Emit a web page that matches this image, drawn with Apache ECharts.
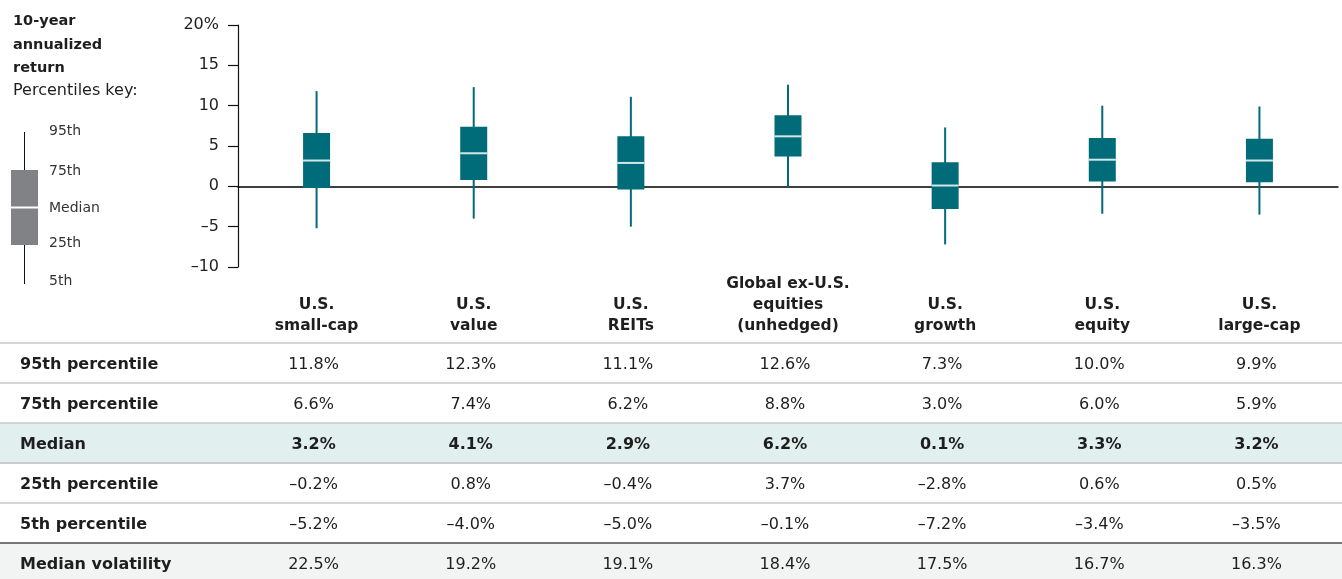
<!DOCTYPE html>
<html>
<head>
<meta charset="utf-8">
<script src="https://cdn.jsdelivr.net/npm/echarts@6/dist/echarts.min.js"></script>
<style>
  html, body { margin: 0; padding: 0; background: #fff; }
  #chart { width: 1342px; height: 579px; }
</style>
</head>
<body>
<div id="chart"></div>
<script>
// Asset classes and their 10-year annualized return percentiles (%)
const categories = [
  'U.S.\nsmall-cap',
  'U.S.\nvalue',
  'U.S.\nREITs',
  'Global ex-U.S.\nequities\n(unhedged)',
  'U.S.\ngrowth',
  'U.S.\nequity',
  'U.S.\nlarge-cap'
];
const p95 = [11.8, 12.3, 11.1, 12.6, 7.3, 10.0, 9.9];
const p75 = [6.6, 7.4, 6.2, 8.8, 3.0, 6.0, 5.9];
const median = [3.2, 4.1, 2.9, 6.2, 0.1, 3.3, 3.2];
const p25 = [-0.2, 0.8, -0.4, 3.7, -2.8, 0.6, 0.5];
const p5 = [-5.2, -4.0, -5.0, -0.1, -7.2, -3.4, -3.5];
const volatility = [22.5, 19.2, 19.1, 18.4, 17.5, 16.7, 16.3];

const yTicks = { min: -10, max: 20, interval: 5 };

const tableRows = [
  { label: '95th percentile', values: p95 },
  { label: '75th percentile', values: p75 },
  { label: 'Median', values: median, bold: true, fill: '#e1f0ef' },
  { label: '25th percentile', values: p25 },
  { label: '5th percentile', values: p5 },
  { label: 'Median volatility', values: volatility, fill: '#f2f4f3', darkTop: true }
];

const FONT = '"DejaVu Sans", "Noto Sans", sans-serif';
const TEAL = '#006b79';
const TEXT = '#1e1e1e';

const dash = v => (v < 0 ? '\u2013' : '') + Math.abs(v);
const pct = v => (v < 0 ? '\u2013' : '') + Math.abs(v).toFixed(1) + '%';

const boxData = categories.map((c, i) => [i, p5[i], p25[i], median[i], p75[i], p95[i]]);

// Whisker from 5th to 95th, box from 25th to 75th, light rule at the median
function renderBox(params, api) {
  const i = api.value(0);
  const top = api.coord([i, api.value(5)]);
  const bot = api.coord([i, api.value(1)]);
  const q3 = api.coord([i, api.value(4)]);
  const q1 = api.coord([i, api.value(2)]);
  const md = api.coord([i, api.value(3)]);
  const bw = 27;
  const cx = top[0];
  return {
    type: 'group',
    children: [
      { type: 'line', shape: { x1: cx, y1: top[1], x2: cx, y2: bot[1] },
        style: { stroke: TEAL, lineWidth: 2 } },
      { type: 'rect', shape: { x: cx - bw / 2, y: q3[1], width: bw, height: q1[1] - q3[1] },
        style: { fill: TEAL } },
      { type: 'line', shape: { x1: cx - bw / 2, y1: md[1], x2: cx + bw / 2, y2: md[1] },
        style: { stroke: '#d4e6e8', lineWidth: 2 } }
    ]
  };
}

const chart = echarts.init(document.getElementById('chart'), null, { renderer: 'canvas' });

chart.setOption({
  animation: false,
  textStyle: { fontFamily: FONT },
  grid: { left: 238, right: 4, top: 25, height: 242 },
  xAxis: [
    {
      type: 'category',
      data: categories,
      position: 'bottom',
      axisLine: { show: false, onZero: false },
      axisTick: { show: false },
      axisLabel: {
        interval: 0, margin: 69, verticalAlign: 'bottom',
        fontFamily: FONT, fontSize: 15.5, fontWeight: 'bold', color: TEXT, lineHeight: 21
      }
    },
    {
      type: 'category',
      data: categories,
      position: 'bottom',
      axisLine: { show: true, onZero: true, lineStyle: { color: '#000', width: 1.5 } },
      axisTick: { show: false },
      axisLabel: { show: false }
    }
  ],
  yAxis: {
    type: 'value',
    min: yTicks.min, max: yTicks.max, interval: yTicks.interval,
    axisLine: { show: true, lineStyle: { color: '#111', width: 1.2 } },
    axisTick: { show: true, length: 10, lineStyle: { color: '#111', width: 1.2 } },
    splitLine: { show: false },
    axisLabel: {
      margin: 19, fontFamily: FONT, fontSize: 16, color: TEXT,
      formatter: v => (v === yTicks.max ? v + '%' : dash(v))
    }
  },
  series: [{
    type: 'custom',
    renderItem: renderBox,
    encode: { x: 0, y: [1, 2, 3, 4, 5] },
    data: boxData,
    z: 3
  }]
});

// Key, title and the percentile table underneath the plot
const graphics = [];

// Title block
const titleLines = [
  { t: '10-year', y: 21, bold: true },
  { t: 'annualized', y: 45, bold: true },
  { t: 'return', y: 68, bold: true },
  { t: 'Percentiles key:', y: 91, bold: false }
];
titleLines.forEach(l => graphics.push({
  type: 'text', x: 13, y: l.y,
  style: { text: l.t, font: (l.bold ? 'bold 14.5px ' : '16px ') + FONT, fill: TEXT, verticalAlign: 'middle' }
}));

// Percentile key glyph
graphics.push(
  { type: 'line', shape: { x1: 24.5, y1: 132, x2: 24.5, y2: 284 }, style: { stroke: '#111', lineWidth: 1 } },
  { type: 'rect', shape: { x: 11, y: 170, width: 27, height: 75 }, style: { fill: '#808285' } },
  { type: 'line', shape: { x1: 11, y1: 207.5, x2: 38, y2: 207.5 }, style: { stroke: '#fff', lineWidth: 2 } }
);
[['95th', 131], ['75th', 171], ['Median', 208], ['25th', 243], ['5th', 281]].forEach(([t, y]) =>
  graphics.push({ type: 'text', x: 49, y: y,
    style: { text: t, font: '14px ' + FONT, fill: '#333', verticalAlign: 'middle' } }));

// Table
const tableTop = 343, rowH = 40, W = 1342;
tableRows.forEach((row, r) => {
  const y0 = tableTop + r * rowH;
  if (row.fill) {
    graphics.push({ type: 'rect', z: -1, shape: { x: 0, y: y0, width: W, height: r === tableRows.length - 1 ? 579 - y0 : rowH },
      style: { fill: row.fill } });
  }
  graphics.push({ type: 'line', shape: { x1: 0, y1: y0, x2: W, y2: y0 },
    style: { stroke: row.darkTop ? '#4d4d4d' : '#c9c9c9', lineWidth: 1.5 } });
  graphics.push({ type: 'text', x: 20, y: y0 + rowH / 2 + 2,
    style: { text: row.label, font: 'bold 16px ' + FONT, fill: TEXT, verticalAlign: 'middle' } });
  row.values.forEach((v, i) => {
    const cx = chart.convertToPixel({ xAxisIndex: 0 }, i) - 3;
    graphics.push({ type: 'text', x: cx, y: y0 + rowH / 2 + 2,
      style: { text: pct(v), font: (row.bold ? 'bold ' : '') + '16px ' + FONT, fill: TEXT,
        align: 'center', verticalAlign: 'middle' } });
  });
});
// rule under the median row
graphics.push({ type: 'line', shape: { x1: 0, y1: tableTop + 3 * rowH, x2: W, y2: tableTop + 3 * rowH },
  style: { stroke: '#c9c9c9', lineWidth: 1.5 } });

chart.setOption({ graphic: graphics });
</script>
</body>
</html>
